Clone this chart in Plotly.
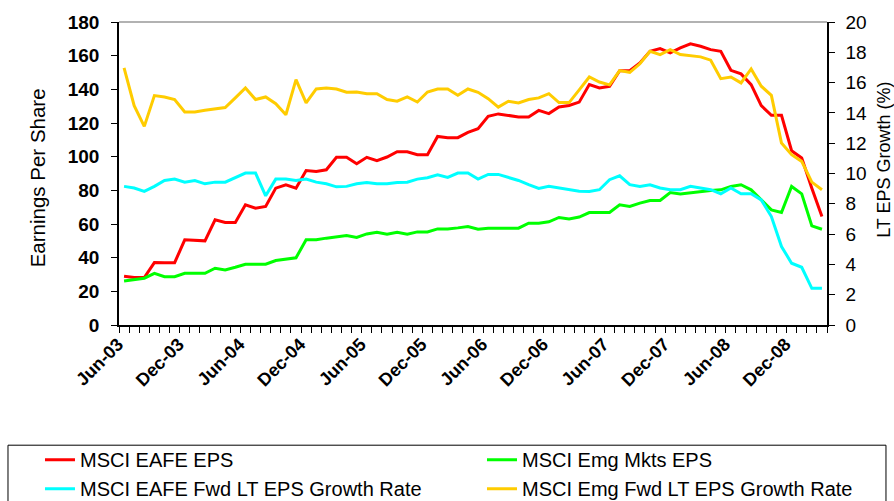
import pandas as pd
import plotly.graph_objects as go

# ---- data -------------------------------------------------------------
months = [d.strftime("%b-%y") for d in pd.date_range("2003-06-01", periods=70, freq="MS")]
label_months = ["Jun-03", "Dec-03", "Jun-04", "Dec-04", "Jun-05", "Dec-05",
                "Jun-06", "Dec-06", "Jun-07", "Dec-07", "Jun-08", "Dec-08"]

eafe_eps = [29.0, 28.2, 28.2, 37.1, 37.0, 37.0, 50.6, 50.2, 50.0, 62.5,
            60.9, 60.9, 71.4, 69.4, 70.4, 81.3, 83.3, 81.3, 91.8, 91.2,
            92.2, 99.6, 99.6, 95.8, 99.6, 97.6, 99.8, 102.9, 102.9, 101.2,
            101.2, 112.0, 111.3, 111.3, 114.4, 116.6, 124.0, 125.4, 124.6, 123.6,
            123.6, 127.5, 125.6, 129.5, 130.4, 132.4, 142.8, 140.8, 141.8, 151.1,
            151.1, 155.7, 162.6, 164.2, 161.7, 164.6, 167.0, 165.6, 163.6, 162.6,
            151.3, 149.2, 142.8, 130.3, 124.6, 124.6, 103.5, 99.2, 81.3, 64.5]

emg_eps = [26.2, 26.8, 27.8, 30.7, 28.7, 28.7, 30.7, 30.7, 30.7, 33.7,
           32.7, 34.3, 36.1, 36.1, 36.1, 38.3, 39.1, 39.9, 50.6, 50.6,
           51.6, 52.3, 53.2, 52.0, 54.1, 55.1, 53.9, 55.1, 53.9, 55.3,
           55.3, 57.1, 57.1, 57.7, 58.5, 56.9, 57.5, 57.5, 57.5, 57.5,
           60.5, 60.5, 61.3, 63.9, 63.0, 64.1, 66.8, 66.8, 66.8, 71.4,
           70.4, 72.4, 74.0, 74.0, 78.7, 77.9, 78.7, 79.3, 79.9, 80.3,
           82.3, 83.3, 80.3, 74.4, 68.4, 66.8, 82.3, 77.9, 58.9, 56.9]

eafe_lt_growth = [9.15, 9.04, 8.82, 9.15, 9.54, 9.63, 9.43, 9.54, 9.32, 9.43,
                  9.43, 9.72, 10.03, 10.03, 8.53, 9.63, 9.63, 9.54, 9.63, 9.43,
                  9.32, 9.12, 9.15, 9.32, 9.41, 9.32, 9.32, 9.41, 9.43, 9.63,
                  9.72, 9.92, 9.74, 10.03, 10.03, 9.63, 9.94, 9.94, 9.74, 9.54,
                  9.26, 9.01, 9.15, 9.04, 8.93, 8.83, 8.82, 8.93, 9.59, 9.85,
                  9.26, 9.15, 9.26, 9.04, 8.93, 8.93, 9.15, 9.04, 8.93, 8.66,
                  9.04, 8.66, 8.66, 8.26, 7.16, 5.18, 4.08, 3.81, 2.42, 2.42]

emg_lt_growth = [16.97, 14.48, 13.11, 15.14, 15.05, 14.88, 14.06, 14.06, 14.17, 14.26,
                 14.35, 14.99, 15.65, 14.88, 15.05, 14.61, 13.88, 16.20, 14.66, 15.58,
                 15.65, 15.58, 15.37, 15.38, 15.27, 15.27, 14.88, 14.77, 15.05, 14.72,
                 15.38, 15.58, 15.58, 15.16, 15.58, 15.36, 14.94, 14.38, 14.77, 14.66,
                 14.88, 14.99, 15.27, 14.68, 14.68, 15.52, 16.37, 16.04, 15.85, 16.79,
                 16.68, 17.24, 18.07, 17.85, 18.18, 17.85, 17.79, 17.70, 17.48, 16.26,
                 16.37, 15.98, 16.90, 15.76, 15.16, 12.01, 11.24, 10.80, 9.43, 8.93]

series_names = ["MSCI EAFE EPS", "MSCI Emg Mkts EPS",
                "MSCI EAFE Fwd LT EPS Growth Rate", "MSCI Emg Fwd LT EPS Growth Rate"]
series_colors = ["#FF0000", "#00FF00", "#00FFFF", "#FFCC00"]

# ---- figure -----------------------------------------------------------
FONT = "Liberation Sans, Arial, sans-serif"
fig = go.Figure()
fig.add_trace(go.Scatter(x=months, y=eafe_eps, name=series_names[0], mode="lines",
                         line=dict(color=series_colors[0], width=3), yaxis="y",
                         legend="legend"))
fig.add_trace(go.Scatter(x=months, y=emg_eps, name=series_names[1], mode="lines",
                         line=dict(color=series_colors[1], width=3), yaxis="y",
                         legend="legend2"))
fig.add_trace(go.Scatter(x=months, y=eafe_lt_growth, name=series_names[2], mode="lines",
                         line=dict(color=series_colors[2], width=3), yaxis="y2",
                         legend="legend"))
fig.add_trace(go.Scatter(x=months, y=emg_lt_growth, name=series_names[3], mode="lines",
                         line=dict(color=series_colors[3], width=3), yaxis="y2",
                         legend="legend2"))

ticktext = [m if m in label_months else "" for m in months]

legend_common = dict(
    orientation="v", yanchor="top", xanchor="left", bgcolor="rgba(0,0,0,0)",
    borderwidth=0, font=dict(family=FONT, size=20, color="black"), traceorder="normal",
)

fig.update_layout(
    width=894, height=501,
    margin=dict(l=119, r=67, t=22, b=176, autoexpand=False),
    paper_bgcolor="white", plot_bgcolor="white",
    font=dict(family=FONT, size=19, color="black"),
    showlegend=True,
    xaxis=dict(
        type="category", range=[-0.5, len(months) - 0.5],
        tickmode="array", tickvals=months, ticktext=ticktext,
        tickson="boundaries", ticks="outside", ticklen=6, tickcolor="black",
        tickangle=-45, ticklabelshift=-6,
        tickfont=dict(family=FONT, size=18, color="black", weight="bold"),
        showline=True, linecolor="black", linewidth=1.5, showgrid=False,
        zeroline=False, fixedrange=True,
    ),
    xaxis2=dict(
        overlaying="x", anchor="y", side="bottom",
        range=[-0.5, len(months) - 0.5], tickmode="linear", tick0=-0.5, dtick=1,
        ticks="inside", ticklen=5, tickcolor="black", showticklabels=False,
        showline=False, showgrid=False, zeroline=False,
    ),
    yaxis=dict(
        range=[0, 180], dtick=20, tick0=0,
        ticks="outside", ticklen=6, tickcolor="black", ticklabelstandoff=8,
        tickfont=dict(family=FONT, size=19, color="black", weight="bold"),
        showline=True, linecolor="black", linewidth=1.5, showgrid=False, zeroline=False,
    ),
    yaxis2=dict(
        range=[0, 20], dtick=2, tick0=0, overlaying="y", side="right",
        ticks="outside", ticklen=6, tickcolor="black", ticklabelstandoff=7,
        tickfont=dict(family=FONT, size=19, color="black"),
        showline=True, linecolor="black", linewidth=1.5, showgrid=False, zeroline=False,
    ),
    yaxis3=dict(
        range=[0, 180], dtick=20, tick0=0, overlaying="y", side="left",
        ticks="inside", ticklen=6, tickcolor="black", showticklabels=False,
        showline=False, showgrid=False, zeroline=False,
    ),
    yaxis4=dict(
        range=[0, 20], dtick=2, tick0=0, overlaying="y", side="right",
        ticks="inside", ticklen=6, tickcolor="black", showticklabels=False,
        showline=False, showgrid=False, zeroline=False,
    ),
    legend=dict(x=-0.1116, y=-0.380, **legend_common),
    legend2=dict(x=0.5127, y=-0.380, **legend_common),
    shapes=[
        dict(type="line", xref="paper", yref="paper", x0=0, x1=1, y0=1, y1=1,
             line=dict(color="#999999", width=1.5)),
        dict(type="rect", xref="paper", yref="paper", x0=-0.1568, x1=1.0833,
             y0=-0.3967, y1=-0.7, line=dict(color="black", width=1), layer="below"),
    ],
    annotations=[
        dict(text="Earnings Per Share", xref="paper", yref="paper",
             x=-0.115, y=0.486, xanchor="center", yanchor="middle",
             textangle=-90, showarrow=False,
             font=dict(family=FONT, size=20.5, color="black")),
        dict(text="LT EPS Growth (%)", xref="paper", yref="paper",
             x=1.0805, y=0.545, xanchor="center", yanchor="middle",
             textangle=-90, showarrow=False,
             font=dict(family=FONT, size=18, color="black")),
    ],
)

fig.write_html("out.html")
